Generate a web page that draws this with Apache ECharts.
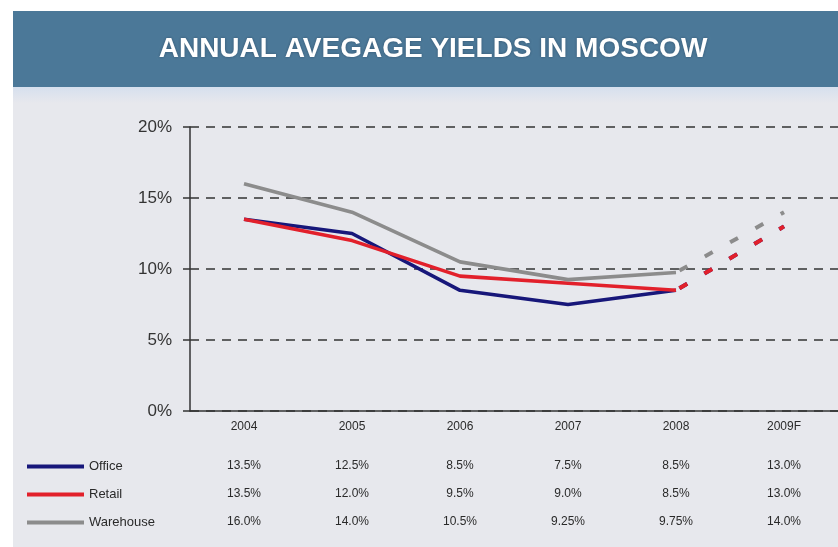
<!DOCTYPE html>
<html>
<head>
<meta charset="utf-8">
<script src="https://cdn.jsdelivr.net/npm/echarts@6/dist/echarts.min.js"></script>
<style>
  html, body { margin: 0; padding: 0; background: #ffffff; }
  #chart { width: 838px; height: 547px; }
</style>
</head>
<body>
<div id="chart"></div>
<script>
// Annual average yields, % (2009 is a forecast)
const years = ['2004', '2005', '2006', '2007', '2008', '2009F'];
const office = [13.5, 12.5, 8.5, 7.5, 8.5, 13.0];
const retail = [13.5, 12.0, 9.5, 9.0, 8.5, 13.0];
const warehouse = [16.0, 14.0, 10.5, 9.25, 9.75, 14.0];
const seriesNames = ['Office', 'Retail', 'Warehouse'];
const yMin = 0, yMax = 20, yStep = 5;
const lastActual = 4; // index of the last actual year; the next one is forecast
const titleText = 'ANNUAL AVEGAGE YIELDS IN MOSCOW';

const colors = { Office: '#17177a', Retail: '#e2202b', Warehouse: '#8c8c8c' };
const valuesByName = { Office: office, Retail: retail, Warehouse: warehouse };

function fmt(v) {
  const twoDecimals = Math.round(v * 100) % 10 !== 0;
  return v.toFixed(twoDecimals ? 2 : 1) + '%';
}
const actualPart = arr => arr.map((v, i) => (i <= lastActual ? v : '-'));
const forecastPart = arr => arr.map((v, i) => (i >= lastActual ? v : '-'));

const FONT = '"Liberation Sans", Arial, sans-serif';
const gridTop = 127, gridBottom = 136;

// Data table rows under the axis: one hidden category axis per series
const tableOffsets = [39, 67, 95];
const tableAxes = seriesNames.map((name, k) => ({
  type: 'category',
  data: years,
  gridIndex: 0,
  position: 'bottom',
  offset: tableOffsets[k],
  boundaryGap: true,
  axisLine: { show: false },
  axisTick: { show: false },
  splitLine: { show: false },
  axisLabel: {
    interval: 0,
    margin: 10,
    fontFamily: FONT,
    fontSize: 12,
    color: '#2a2a2a',
    formatter: (value, idx) => fmt(valuesByName[name][idx])
  }
}));

const solidSeries = seriesNames.map(name => ({
  name: name,
  type: 'line',
  data: actualPart(valuesByName[name]),
  symbol: 'none',
  smooth: false,
  z: 3,
  color: colors[name],
  lineStyle: { color: colors[name], width: 3.6, join: 'round' }
}));

const forecastSeries = seriesNames.map(name => ({
  name: name + ' forecast',
  type: 'line',
  data: forecastPart(valuesByName[name]),
  symbol: 'none',
  z: 3,
  color: colors[name],
  lineStyle: { color: colors[name], width: 4, type: [9, 20], dashOffset: 25, cap: 'butt' }
}));

// draw order: office first so retail lies above it, warehouse last
const ordered = [];
[0, 1, 2].forEach(k => { ordered.push(solidSeries[k]); ordered.push(forecastSeries[k]); });

const chart = echarts.init(document.getElementById('chart'), null, { renderer: 'canvas' });
chart.setOption({
  animation: false,
  backgroundColor: '#ffffff',
  graphic: [
    { type: 'rect', z: -10, shape: { x: 13, y: 87, width: 825, height: 460 }, style: { fill: '#e7e8ed' } },
    { type: 'rect', z: -9, shape: { x: 13, y: 87, width: 825, height: 16 },
      style: { fill: new echarts.graphic.LinearGradient(0, 0, 0, 1, [
        { offset: 0, color: '#d6e0ee' }, { offset: 1, color: '#e7e8ed' }]) } },
    { type: 'rect', z: -8, shape: { x: 13, y: 11, width: 825, height: 76 }, style: { fill: '#4b7898' } },
    { type: 'text', z: 10, x: 433, y: 49,
      style: { text: titleText, fill: '#ffffff', fontFamily: FONT, fontWeight: 'bold', fontSize: 28,
               textAlign: 'center', textVerticalAlign: 'middle',
               textShadowColor: 'rgba(20,40,60,0.45)', textShadowBlur: 3 } }
  ],
  grid: { left: 190, right: 0, top: gridTop, bottom: gridBottom, containLabel: false },
  legend: {
    data: seriesNames,
    orient: 'vertical',
    left: 22,
    top: 455,
    icon: 'rect',
    itemWidth: 57,
    itemHeight: 4,
    itemGap: 15,
    selectedMode: false,
    textStyle: { fontFamily: FONT, fontSize: 13, color: '#2a2a2a' }
  },
  xAxis: [{
    type: 'category',
    data: years,
    boundaryGap: true,
    axisLine: { show: true, lineStyle: { color: '#333333', width: 1.5 } },
    axisTick: { show: false },
    splitLine: { show: false },
    axisLabel: { interval: 0, margin: 10, fontFamily: FONT, fontSize: 12, color: '#2a2a2a' }
  }].concat(tableAxes),
  yAxis: {
    type: 'value',
    min: yMin,
    max: yMax,
    interval: yStep,
    axisLine: { show: true, lineStyle: { color: '#333333', width: 1.5 } },
    axisTick: { show: true, length: 7, lineStyle: { color: '#333333', width: 1.5 } },
    axisLabel: { formatter: '{value}%', margin: 18, fontFamily: FONT, fontSize: 17, color: '#333333' },
    splitLine: { show: true, lineStyle: { color: '#333333', width: 1.5, type: [9, 7] } }
  },
  series: ordered
});
</script>
</body>
</html>
